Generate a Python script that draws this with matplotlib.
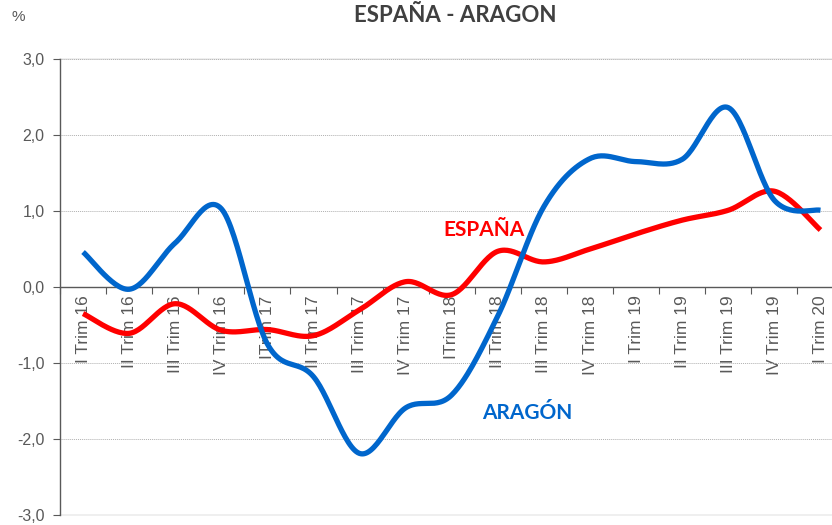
import numpy as np
import matplotlib.pyplot as plt
from matplotlib.ticker import FixedLocator, FuncFormatter

# datos (% variación)
trimestres = ["I Trim 16", "II Trim 16", "III Trim 16", "IV Trim 16",
              "ITrim 17", "II Trim 17", "III Trim 17", "IV Trim 17",
              "ITrim 18", "II Trim 18", "III Trim 18", "IV Trim 18",
              "I Trim 19", "II Trim 19", "III Trim 19", "IV Trim 19",
              "I Trim 20"]
espana = [-0.35, -0.61, -0.22, -0.57, -0.56, -0.64, -0.30, 0.07, -0.10,
          0.47, 0.33, 0.50, 0.70, 0.88, 1.01, 1.26, 0.75]
aragon = [0.46, -0.03, 0.58, 1.03, -0.75, -1.18, -2.19, -1.59, -1.42,
          -0.38, 1.06, 1.69, 1.65, 1.68, 2.36, 1.14, 1.01]


def suavizar(y, n=30):
    # curva suavizada tipo Excel (bezier / catmull-rom)
    y = np.asarray(y, dtype=float)
    x = np.arange(len(y), dtype=float)
    px = np.concatenate([[x[0]], x, [x[-1]]])
    py = np.concatenate([[y[0]], y, [y[-1]]])
    xs, ys = [], []
    t = np.linspace(0, 1, n)
    for i in range(len(y) - 1):
        p0 = np.array([px[i + 1], py[i + 1]])
        p3 = np.array([px[i + 2], py[i + 2]])
        p1 = p0 + (p3 - np.array([px[i], py[i]])) / 6
        p2 = p3 - (np.array([px[i + 3], py[i + 3]]) - p0) / 6
        b = ((1 - t) ** 3)[:, None] * p0 + (3 * (1 - t) ** 2 * t)[:, None] * p1 \
            + (3 * (1 - t) * t ** 2)[:, None] * p2 + (t ** 3)[:, None] * p3
        xs.append(b[:, 0])
        ys.append(b[:, 1])
    return np.concatenate(xs), np.concatenate(ys)


plt.rcParams['font.family'] = ['Liberation Sans', 'DejaVu Sans']
gris = '#595959'

fig = plt.figure(figsize=(8.32, 5.25), dpi=100)
ax = fig.add_axes([60 / 832, 10 / 525, 772 / 832, 456 / 525])

xe, ye = suavizar(espana)
xa, ya = suavizar(aragon)
ax.plot(xe, ye, color='#FF0000', lw=3.8, solid_capstyle='butt', zorder=3)
ax.plot(xa, ya, color='#0066CC', lw=3.8, solid_capstyle='butt', zorder=4)

ax.set_xlim(-0.5, 16.25)
ax.set_ylim(-3, 3)

# ejes
for s in ['top', 'right']:
    ax.spines[s].set_visible(False)
ax.spines['bottom'].set_position(('data', 0))
ax.spines['bottom'].set_color(gris)
ax.spines['left'].set_color(gris)
ax.spines['bottom'].set_linewidth(1.0)
ax.spines['left'].set_linewidth(1.0)

ax.xaxis.set_major_locator(FixedLocator(np.arange(-0.5, 17, 1)))
ax.xaxis.set_major_formatter(FuncFormatter(lambda v, p: ''))
ax.xaxis.set_minor_locator(FixedLocator(np.arange(len(trimestres))))
ax.set_xticklabels(trimestres, minor=True, rotation=90, va='top',
                   fontsize=12.5, color=gris)
ax.tick_params(axis='x', which='major', direction='out', length=5, color=gris)
ax.tick_params(axis='x', which='minor', length=0, pad=6)

ax.set_yticks(np.arange(-3, 3.1, 1))
ax.yaxis.set_major_formatter(FuncFormatter(lambda v, p: f"{v:.1f}".replace('.', ',')))
ax.tick_params(axis='y', direction='out', length=5, color=gris, labelsize=11.5,
               labelcolor=gris, pad=6)

ax.grid(axis='y', linestyle=(0, (1, 1)), color='#b0b0b0', lw=0.7, zorder=0)
ax.axhline(3, color='#ececec', lw=1.2, zorder=1, clip_on=False)
ax.axhline(-3, color='#ececec', lw=1.2, zorder=1, clip_on=False)

# textos
fig.text(455 / 832, 1 - 16 / 525, "ESPAÑA - ARAGON", ha='center', va='center',
         fontsize=16, fontweight='bold', color='#404040', family=['Lato', 'DejaVu Sans'])
fig.text(18 / 832, 1 - 17 / 525, "%", ha='center', va='center', fontsize=11,
         color=gris)
ax.text(8.70, 0.75, "ESPAÑA", color='#FF0000', fontsize=15, fontweight='bold',
        ha='center', va='center', family=['Lato', 'DejaVu Sans'], zorder=5)
ax.text(9.63, -1.66, "ARAGÓN", color='#0066CC', fontsize=15, fontweight='bold',
        ha='center', va='center', family=['Lato', 'DejaVu Sans'], zorder=5)

fig.savefig('out.png', dpi=100)
